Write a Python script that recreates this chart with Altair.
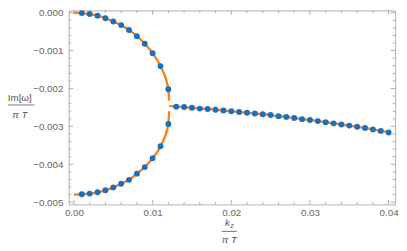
import altair as alt
import pandas as pd

# ---- data ----
k_dots_arc = [0.001, 0.002, 0.003, 0.004, 0.005, 0.006, 0.007, 0.008, 0.009, 0.010, 0.011, 0.012]
im_upper_dots = [-0.00001, -0.000036, -0.000078, -0.000147, -0.000233, -0.000328,
                 -0.000457, -0.00062, -0.00082, -0.00107, -0.00141, -0.00202]
im_lower_dots = [-0.00479, -0.004773, -0.004739, -0.004687, -0.00461, -0.004514,
                 -0.004411, -0.004248, -0.004075, -0.003842, -0.003525, -0.002938]

k_dots_flat = [0.013, 0.014, 0.015, 0.016, 0.017, 0.018, 0.019, 0.020, 0.021, 0.022,
               0.023, 0.024, 0.025, 0.026, 0.027, 0.028, 0.029, 0.030, 0.031, 0.032,
               0.033, 0.034, 0.035, 0.036, 0.037, 0.038, 0.039, 0.040]
im_flat_dots = [-0.00248, -0.00249, -0.00251, -0.00253, -0.00254, -0.00256, -0.00258,
                -0.00260, -0.00262, -0.00264, -0.00266, -0.00268, -0.00270, -0.00273,
                -0.00275, -0.00278, -0.00281, -0.00283, -0.00286, -0.00289, -0.00292,
                -0.00295, -0.00298, -0.00301, -0.00304, -0.00308, -0.00312, -0.00316]

# curve end points
k_start = 0.0
im_upper_start = 0.0
im_lower_start = -0.00480
k_branch = 0.0121
im_upper_end = -0.00232
im_lower_end = -0.00260
im_flat_start = -0.00246

# axis ticks
x_major = [0.0, 0.01, 0.02, 0.03, 0.04]
x_minor = [0.002, 0.004, 0.006, 0.008, 0.012, 0.014, 0.016, 0.018, 0.022, 0.024,
           0.026, 0.028, 0.032, 0.034, 0.036, 0.038]
y_major = [0.0, -0.001, -0.002, -0.003, -0.004, -0.005]
y_minor = [-0.0002, -0.0004, -0.0006, -0.0008, -0.0012, -0.0014, -0.0016, -0.0018,
           -0.0022, -0.0024, -0.0026, -0.0028, -0.0032, -0.0034, -0.0036, -0.0038,
           -0.0042, -0.0044, -0.0046, -0.0048]

# ---- tables ----
rows = []
for k, v in zip([k_start] + k_dots_arc + [k_branch], [im_upper_start] + im_upper_dots + [im_upper_end]):
    rows.append({"k": k, "im": v, "branch": "upper"})
for k, v in zip([k_start] + k_dots_arc + [k_branch], [im_lower_start] + im_lower_dots + [im_lower_end]):
    rows.append({"k": k, "im": v, "branch": "lower"})
for k, v in zip([k_branch] + k_dots_flat, [im_flat_start] + im_flat_dots):
    rows.append({"k": k, "im": v, "branch": "flat"})
line_df = pd.DataFrame(rows)

dots_df = pd.DataFrame({
    "k": k_dots_arc + k_dots_arc + k_dots_flat,
    "im": im_upper_dots + im_lower_dots + im_flat_dots,
})

W, H = 333, 198
FRAME = "#b0b0b0"
TICK = "#9a9a9a"
LABEL = "#666666"
FONT = "Liberation Sans"

xscale = alt.Scale(domain=[-0.00066, 0.04082], nice=False, zero=False)
yscale = alt.Scale(domain=[-0.00506, 0.00006], nice=False, zero=False)

X = alt.X("k:Q", scale=xscale,
          axis=alt.Axis(values=x_major, format=".2f", domain=False, ticks=False, grid=False,
                        labelPadding=3, labelColor=LABEL, labelFontSize=10, labelFont=FONT,
                        labelFlush=False, title=None))
Y = alt.Y("im:Q", scale=yscale,
          axis=alt.Axis(values=y_major, format=".3f", domain=False, ticks=False, grid=False,
                        labelPadding=6, labelColor=LABEL, labelFontSize=10, labelFont=FONT,
                        labelFlush=False, title=None))

lines = alt.Chart(line_df).mark_line(color="#ff7f0e", strokeWidth=2.4, interpolate="monotone").encode(
    x=X, y=Y, detail="branch:N", order="k:Q")

dots = alt.Chart(dots_df).mark_point(filled=True, color="#1a6fc0", opacity=1, size=36).encode(x=X, y=Y)

xmaj = pd.DataFrame({"k": x_major})
xmin = pd.DataFrame({"k": x_minor})
ymaj = pd.DataFrame({"im": y_major})
ymin = pd.DataFrame({"im": y_minor})

tick_layers = []
for df, ln in [(xmaj, 4.5), (xmin, 2.5)]:
    tick_layers.append(alt.Chart(df).mark_rule(color=TICK, strokeWidth=0.8).encode(
        x=X, y=alt.value(H), y2=alt.value(H - ln)))
    tick_layers.append(alt.Chart(df).mark_rule(color=TICK, strokeWidth=0.8).encode(
        x=X, y=alt.value(0), y2=alt.value(ln)))
for df, ln in [(ymaj, 4.5), (ymin, 2.5)]:
    tick_layers.append(alt.Chart(df).mark_rule(color=TICK, strokeWidth=0.8).encode(
        y=Y, x=alt.value(0), x2=alt.value(ln)))
    tick_layers.append(alt.Chart(df).mark_rule(color=TICK, strokeWidth=0.8).encode(
        y=Y, x=alt.value(W), x2=alt.value(W - ln)))

one = pd.DataFrame({"a": [0]})
TCOL = "#555555"

def txt(s, x, y, size=10, style="normal"):
    return alt.Chart(one).mark_text(fontSize=size, font=FONT, color=TCOL, fontStyle=style,
                                    align="center", baseline="middle").encode(
        x=alt.value(x), y=alt.value(y), text=alt.value(s))

def bar(x1, x2, y):
    return alt.Chart(one).mark_rule(color=TCOL, strokeWidth=0.8).encode(
        x=alt.value(x1), x2=alt.value(x2), y=alt.value(y))

titles = [
    txt("Im[ω]", -50, 89),
    bar(-65, -35, 96.5),
    txt("π T", -50, 107, style="italic"),
    txt("k", 162, 217, style="italic"),
    txt("z", 166.5, 220, size=7, style="italic"),
    bar(156, 172, 225.5),
    txt("π T", 164, 234, style="italic"),
]

chart = alt.layer(*tick_layers, lines, dots, *titles).properties(
    width=W, height=H,
    autosize=alt.AutoSizeParams(type="none"),
    padding={"left": 62, "top": 0, "right": 4, "bottom": 43},
).configure_view(stroke=FRAME, strokeWidth=1)

chart.save("out.html", embed_options={"renderer": "svg", "actions": False})
